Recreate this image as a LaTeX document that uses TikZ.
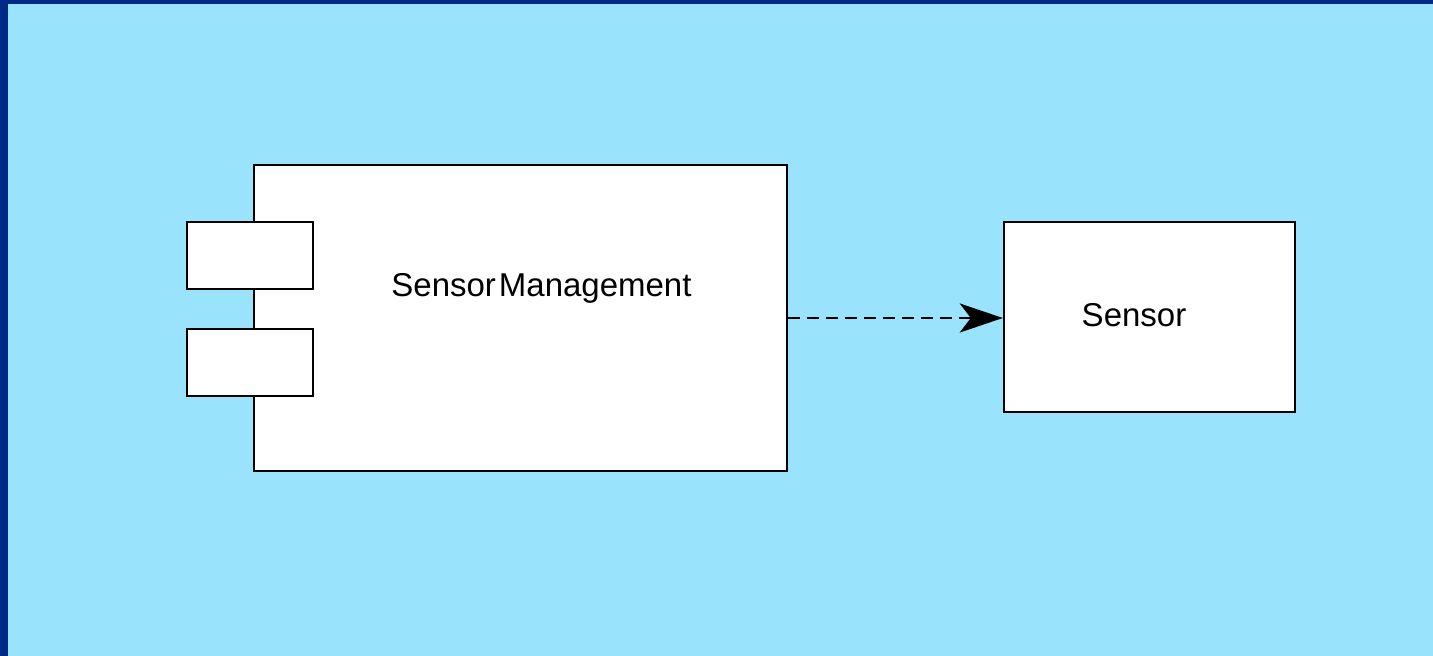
\documentclass[tikz,border=0pt]{standalone}
\usepackage{fontspec}
\setmainfont{Liberation Sans}
\usetikzlibrary{arrows.meta}
\definecolor{frameblue}{HTML}{002A87}
\definecolor{paneblue}{HTML}{99E3FC}
\begin{document}
\begin{tikzpicture}[x=0.5pt,y=-0.5pt,
  box/.style={draw=black, fill=white, line width=1.2pt, inner sep=0pt},
  lbl/.style={anchor=base, inner sep=0pt, font=\fontsize{16.5pt}{19pt}\selectfont},
  dep/.style={line width=1.4pt, dash pattern=on 6pt off 3.5pt,
    -{Stealth[length=21.5pt, width=14.5pt, inset=5.5pt]}}]
  \useasboundingbox (0,0) rectangle (1433,656);
  % slide frame and pane
  \fill[frameblue] (0,0) rectangle (1433,656);
  \fill[paneblue] (8,4) rectangle (1433,656);
  % component with its two ports
  \node[box, minimum width=266.5pt, minimum height=153pt] (sm) at (520.5,318) {};
  \node[box, minimum width=63pt, minimum height=33.5pt] (portA) at (250,255.5) {};
  \node[box, minimum width=63pt, minimum height=33.5pt] (portB) at (250,362.5) {};
  \node[lbl] (smlabel) at (541.5,297) {Sensor\kern1.5pt Management};
  % sensor class
  \node[box, minimum width=145.5pt, minimum height=95pt] (sensor) at (1149.5,317) {};
  \node[lbl] (sensorlabel) at (1134,327) {Sensor};
  % dependency
  \draw[dep] (sm.east) -- (sm.east -| sensor.west);
\end{tikzpicture}
\end{document}
